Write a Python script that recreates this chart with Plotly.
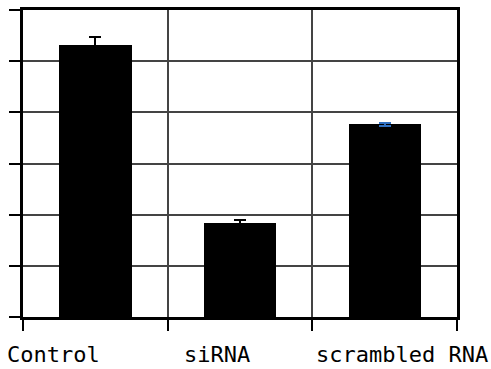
import plotly.graph_objects as go

categories = ["Control", "siRNA", "scrambled RNA"]
values = [5.32, 1.84, 3.77]
errors = [0.16, 0.06, 0.03]
err_colors = ["black", "black", "#2f6fc0"]
label_x = [0.21, 1.34, 2.62]

fig = go.Figure()
for i, (c, v, e, ec) in enumerate(zip(categories, values, errors, err_colors)):
    fig.add_trace(go.Bar(
        x=[i + 0.5], y=[v], width=0.5, name=c,
        marker=dict(color="black", line=dict(width=0)),
        error_y=dict(type="data", array=[e], visible=True, color=ec,
                     thickness=2, width=6),
        showlegend=False,
    ))

for c, lx in zip(categories, label_x):
    fig.add_annotation(x=lx, y=0, xref="x", yref="paper", yshift=-37,
                       yanchor="middle",
                       text=c, showarrow=False, xanchor="center",
                       font=dict(family="DejaVu Sans Mono", size=22, color="black"))

fig.update_layout(
    width=491, height=369,
    margin=dict(l=23, r=34, t=7, b=52),
    plot_bgcolor="white", paper_bgcolor="white",
    bargap=0,
)
fig.update_xaxes(range=[0, 3], tickmode="linear", tick0=0, dtick=1,
                 showgrid=True, gridcolor="#444444", gridwidth=1.5,
                 showticklabels=False, ticks="outside", ticklen=11,
                 tickcolor="black", tickwidth=1.5,
                 showline=True, linecolor="black", linewidth=2.5, mirror=True,
                 zeroline=False)
fig.update_yaxes(range=[0, 6], tickmode="linear", tick0=0, dtick=1,
                 showgrid=True, gridcolor="#444444", gridwidth=1.5,
                 showticklabels=False, ticks="outside", ticklen=11,
                 tickcolor="black", tickwidth=1.5,
                 showline=True, linecolor="black", linewidth=2.5, mirror=True,
                 zeroline=False)

fig.write_html("out.html", config={"displayModeBar": False},
               post_script="document.body.style.margin='0px';")
